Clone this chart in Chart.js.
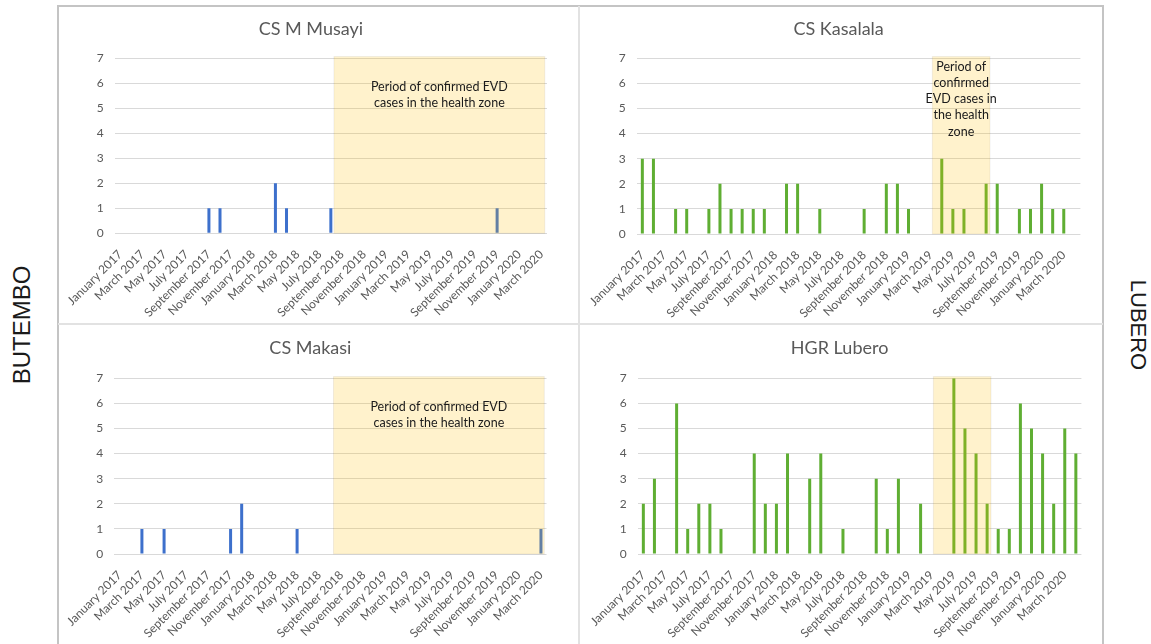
<!DOCTYPE html>
<html>
<head>
<meta charset="utf-8">
<script src="https://cdn.jsdelivr.net/npm/chart.js@4"></script>
<style>
    body { margin: 0; background: #fff; width: 1151px; height: 644px; overflow: hidden; position: relative; font-family: Lato, sans-serif; }
    .panel { position: absolute; }
    .line { position: absolute; background: #d6d6d6; }
    .side { position: absolute; font-family: 'Liberation Sans', Arial, sans-serif; color: #1a1a1a; white-space: nowrap; }
</style>
</head>
<body>

<div class="panel" style="left:58px;top:6px;width:521px;height:318px"><canvas id="musayi" width="521" height="318"></canvas></div>
<div class="panel" style="left:579px;top:6px;width:524px;height:318px"><canvas id="kasalala" width="524" height="318"></canvas></div>
<div class="panel" style="left:58px;top:324px;width:521px;height:320px"><canvas id="makasi" width="521" height="320"></canvas></div>
<div class="panel" style="left:579px;top:324px;width:524px;height:320px"><canvas id="lubero" width="524" height="320"></canvas></div>

<div class="line" style="left:57px;top:5px;width:1047px;height:1.5px;background:#c4c4c4"></div>
<div class="line" style="left:57px;top:5px;width:1.5px;height:640px;background:#c4c4c4"></div>
<div class="line" style="left:1102px;top:5px;width:1.5px;height:640px;background:#c4c4c4"></div>
<div class="line" style="left:578px;top:6px;width:2px;height:640px;background:#e2e2e2"></div>
<div class="line" style="left:58px;top:323px;width:1045px;height:2px;background:#e2e2e2"></div>

<div class="side" style="left:22px;top:325px;font-size:24px;transform:translate(-50%,-50%) rotate(-90deg)">BUTEMBO</div>
<div class="side" style="left:1138px;top:325px;font-size:22px;transform:translate(-50%,-50%) rotate(90deg)">LUBERO</div>

<script>
const months = [
    'January 2017', 'February 2017', 'March 2017', 'April 2017', 'May 2017', 'June 2017',
    'July 2017', 'August 2017', 'September 2017', 'October 2017', 'November 2017', 'December 2017',
    'January 2018', 'February 2018', 'March 2018', 'April 2018', 'May 2018', 'June 2018',
    'July 2018', 'August 2018', 'September 2018', 'October 2018', 'November 2018', 'December 2018',
    'January 2019', 'February 2019', 'March 2019', 'April 2019', 'May 2019', 'June 2019',
    'July 2019', 'August 2019', 'September 2019', 'October 2019', 'November 2019', 'December 2019',
    'January 2020', 'February 2020', 'March 2020', 'April 2020'
];

// monthly counts
const musayiCases = [0, 0, 0, 0, 0, 0, 0, 0, 1, 1, 0, 0, 0, 0, 2, 1, 0, 0, 0, 1, 0, 0, 0, 0, 0, 0, 0, 0, 0, 0, 0, 0, 0, 0, 1, 0, 0, 0, 0];
const makasiCases = [0, 0, 1, 0, 1, 0, 0, 0, 0, 0, 1, 2, 0, 0, 0, 0, 1, 0, 0, 0, 0, 0, 0, 0, 0, 0, 0, 0, 0, 0, 0, 0, 0, 0, 0, 0, 0, 0, 1];
const kasalalaCases = [3, 3, 0, 1, 1, 0, 1, 2, 1, 1, 1, 1, 0, 2, 2, 0, 1, 0, 0, 0, 1, 0, 2, 2, 1, 0, 0, 3, 1, 1, 0, 2, 2, 0, 1, 1, 2, 1, 1, 0];
const luberoCases = [2, 3, 0, 6, 1, 2, 2, 1, 0, 0, 4, 2, 2, 4, 0, 3, 4, 0, 1, 0, 0, 3, 1, 3, 0, 2, 0, 0, 7, 5, 4, 2, 1, 1, 6, 5, 4, 2, 5, 4];

const yTicks = [0, 1, 2, 3, 4, 5, 6, 7];
const evdNoteWide = ['Period of confirmed EVD', 'cases in the health zone'];
const evdNoteNarrow = ['Period of', 'confirmed', 'EVD cases in', 'the health', 'zone'];

const BLUE = '#3d70cc';
const GREEN = '#5fae33';
const GREY_TEXT = '#595959';

// yellow box drawn over the bars, like the shape in the original sheet
const evdBox = {
    id: 'evdBox',
    afterDatasetsDraw (chart, args, opts) {
        const x = chart.scales.x;
        const y = chart.scales.y;
        const x1 = x.getPixelForValue(opts.from);
        const x2 = x.getPixelForValue(opts.to);
        const y1 = y.getPixelForValue(opts.top);
        const y2 = y.getPixelForValue(0);
        const ctx = chart.ctx;
        ctx.save();
        ctx.fillStyle = 'rgba(255, 192, 0, 0.2)';
        ctx.fillRect(x1, y1, x2 - x1, y2 - y1);
        ctx.strokeStyle = 'rgba(0, 0, 0, 0.06)';
        ctx.lineWidth = 1;
        ctx.strokeRect(x1, y1, x2 - x1, y2 - y1);
        if (opts.lines) {
            ctx.fillStyle = '#1a1a1a';
            ctx.font = '12.5px Lato';
            ctx.textAlign = 'center';
            ctx.textBaseline = 'middle';
            opts.lines.forEach((line, i) => {
                ctx.fillText(line, (x1 + x2) / 2, y1 + opts.textTop + i * opts.lineHeight);
            });
        }
        ctx.restore();
    }
};

function drawPanel (id, title, labels, values, color, layout, box) {
    new Chart(document.getElementById(id), {
        type: 'bar',
        data: {
            labels: labels,
            datasets: [{
                data: values,
                backgroundColor: color,
                barThickness: 3,
                inflateAmount: 0
            }]
        },
        plugins: [evdBox],
        options: {
            responsive: false,
            animation: false,
            events: [],
            layout: {
                padding: { left: layout.left, right: layout.right, top: 0, bottom: layout.bottom }
            },
            plugins: {
                legend: { display: false },
                tooltip: { enabled: false },
                title: {
                    display: true,
                    text: title,
                    color: GREY_TEXT,
                    font: { family: 'Lato', size: 18, weight: 'normal', lineHeight: 1.2 },
                    padding: { top: layout.titleTop, bottom: layout.titleGap }
                },
                evdBox: box
            },
            scales: {
                x: {
                    grid: { display: false },
                    border: { display: false },
                    afterFit: (scale) => { scale.height = 88; },
                    ticks: {
                        autoSkip: false,
                        minRotation: 45,
                        maxRotation: 45,
                        padding: 6,
                        color: GREY_TEXT,
                        font: { family: 'Lato', size: 12 },
                        callback: (value, index) => index % 2 === 0 ? labels[index] : ''
                    }
                },
                y: {
                    min: yTicks[0],
                    max: yTicks[yTicks.length - 1],
                    afterFit: (scale) => { scale.width = 40; },
                    afterBuildTicks: (scale) => { scale.ticks = yTicks.map(v => ({ value: v })); },
                    border: { display: false },
                    grid: { color: '#d9d9d9', lineWidth: 1, drawTicks: false },
                    ticks: {
                        padding: 11,
                        color: GREY_TEXT,
                        font: { family: 'Lato', size: 12 }
                    }
                }
            }
        }
    });
}

const leftMonths = months.slice(0, 39);

drawPanel('musayi', 'CS M Musayi', leftMonths, musayiCases, BLUE,
    { left: 16.7, right: 32, bottom: 2.7, titleTop: 12.2, titleGap: 18.5 },
    { from: 19.28, to: 38.3, top: 7.07, lines: evdNoteWide, textTop: 30, lineHeight: 16.6 });

drawPanel('kasalala', 'CS Kasalala', months, kasalalaCases, GREEN,
    { left: 17.8, right: 22.6, bottom: 2, titleTop: 12.2, titleGap: 18.5 },
    { from: 26.15, to: 31.35, top: 7.07, lines: evdNoteNarrow, textTop: 10, lineHeight: 16.3 });

drawPanel('makasi', 'CS Makasi', leftMonths, makasiCases, BLUE,
    { left: 16.2, right: 32.5, bottom: 2, titleTop: 13.2, titleGap: 19.5 },
    { from: 19.28, to: 38.3, top: 7.07, lines: evdNoteWide, textTop: 30, lineHeight: 16.6 });

drawPanel('lubero', 'HGR Lubero', months, luberoCases, GREEN,
    { left: 18.8, right: 21.6, bottom: 2, titleTop: 13.2, titleGap: 19.5 },
    { from: 26.15, to: 31.35, top: 7.07 });
</script>
</body>
</html>
